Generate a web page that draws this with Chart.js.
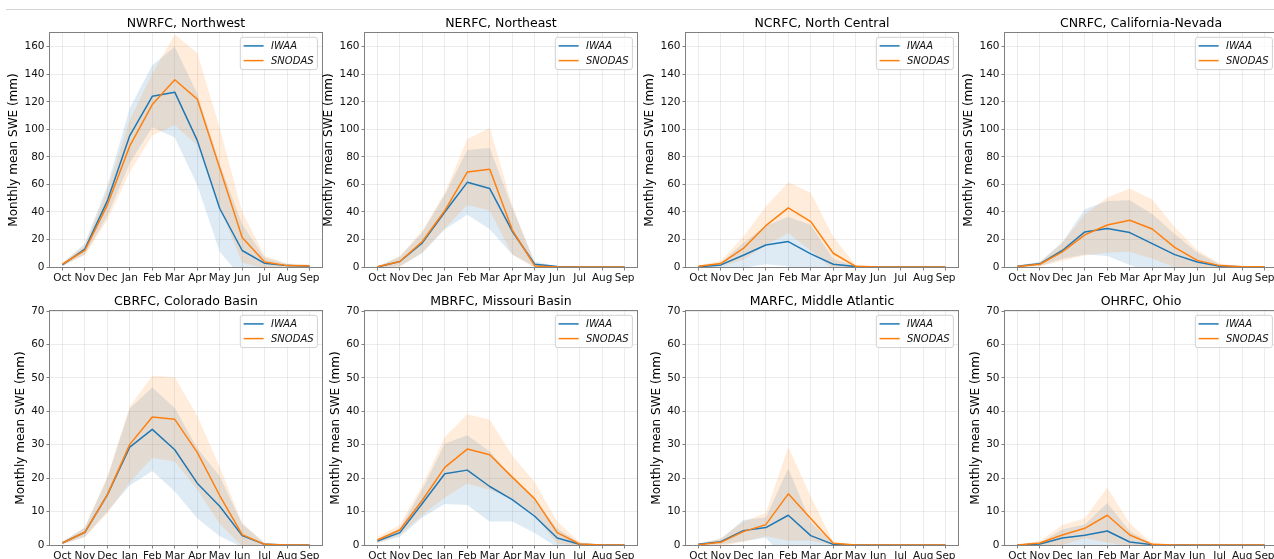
<!DOCTYPE html>
<html><head><meta charset="utf-8">
<script src="https://cdn.jsdelivr.net/npm/chart.js@4.4.1/dist/chart.umd.min.js"></script>
<style>
html,body{margin:0;padding:0;background:#fff;overflow:hidden;width:1274px;height:559px;}
#wrap{position:relative;width:1274px;height:559px;overflow:hidden;background:#fff;}
#wrap canvas{position:absolute;}
#rule{position:absolute;left:6px;top:9px;width:1268px;height:1px;background:#d4d4d4;}
</style></head>
<body><div id="wrap"><div id="rule"></div></div>
<script>
// ---------- data ----------
const months = ['Oct','Nov','Dec','Jan','Feb','Mar','Apr','May','Jun','Jul','Aug','Sep'];
const panelTitles = ['NWRFC, Northwest','NERFC, Northeast','NCRFC, North Central','CNRFC, California-Nevada',
                     'CBRFC, Colorado Basin','MBRFC, Missouri Basin','MARFC, Middle Atlantic','OHRFC, Ohio'];
const seriesNames = ['IWAA','SNODAS'];
const yTicksTop = [0,20,40,60,80,100,120,140,160];
const yMaxTop = 170;
const yTicksBottom = [0,10,20,30,40,50,60,70];
const yMaxBottom = 70;
const yAxisTitle = 'Monthly mean SWE (mm)';

// NWRFC
const nwIwaa     = [1.5, 13, 48, 95.5, 124, 127, 92, 42.5, 12, 2.7, 1, 0.6];
const nwIwaaLo   = [0.5, 9, 37, 75.5, 101.5, 94, 59.5, 11, -8, -1.3, -0.2, -0.2];
const nwIwaaHi   = [2.5, 17, 59, 115.5, 146.5, 160, 126, 75, 31, 6.7, 2.2, 1.4];
const nwSnodas   = [2, 12, 45, 88, 118, 136, 122, 72, 21.5, 3.6, 1, 0.8];
const nwSnodasLo = [1, 8.5, 34, 69, 95.5, 103, 88.5, 43, 3, -0.9, -0.5, -0.2];
const nwSnodasHi = [3, 15.5, 56, 107, 140.5, 169, 155.5, 101, 40, 8.1, 2.5, 1.8];
// NERFC
const neIwaa     = [0, 4, 17.5, 40, 61.5, 57, 26, 2, 0.3, 0, 0, 0];
const neIwaaLo   = [-0.3, 0.5, 10, 27.5, 38, 27.5, 9, 0, 0, 0, 0, 0];
const neIwaaHi   = [0.3, 7.5, 25, 52.5, 85, 86.5, 43, 4, 0.6, 0, 0, 0];
const neSnodas   = [0.2, 4, 18.5, 41, 69, 71, 27, 0.8, 0, 0, 0, 0];
const neSnodasLo = [-0.1, 0, 10.5, 28, 45, 41, 9, -0.4, 0, 0, 0, 0];
const neSnodasHi = [0.5, 8, 26.5, 54, 93, 101, 45, 2, 0, 0, 0, 0];
// NCRFC
const ncIwaa     = [0.1, 1.5, 8.5, 16, 18.5, 9.5, 2, 0.3, 0, 0, 0, 0];
const ncIwaaLo   = [-0.2, 0, -0.5, 2, 0.5, -11.5, -2, -0.2, 0, 0, 0, 0];
const ncIwaaHi   = [0.4, 3, 17.5, 30, 36.5, 30.5, 6, 0.8, 0, 0, 0, 0];
const ncSnodas   = [0.5, 2.5, 13.5, 30, 43, 33, 10, 0.5, 0, 0, 0, 0];
const ncSnodasLo = [-0.1, 0.5, 5, 16, 24.5, 12, -2, -0.3, 0, 0, 0, 0];
const ncSnodasHi = [1.1, 4.5, 22, 44, 61.5, 54, 22, 1.3, 0, 0, 0, 0];
// CNRFC
const cnIwaa     = [0.5, 2.3, 12, 25.5, 28, 25, 17, 9, 3.6, 0.6, 0.1, 0];
const cnIwaaLo   = [0, 0.8, 6, 9, 8, 1.5, -4.5, -6, -3.4, -0.6, -0.1, 0];
const cnIwaaHi   = [1, 3.8, 18, 42, 48, 48.5, 38.5, 24, 10.6, 1.8, 0.3, 0];
const cnSnodas   = [0.3, 2, 11, 23.3, 30.5, 34, 27.6, 14.3, 4.8, 1, 0.2, 0.1];
const cnSnodasLo = [-0.1, 0.5, 4.5, 8.3, 10.5, 11, 6, -0.2, -2.7, -0.5, -0.1, 0];
const cnSnodasHi = [0.7, 3.5, 17.5, 38.3, 50.5, 57, 49, 28.8, 12.3, 2.5, 0.5, 0.2];
// CBRFC
const cbIwaa     = [0.6, 3.8, 15, 29.3, 34.6, 28.5, 18.5, 11.6, 2.8, 0.2, 0, 0];
const cbIwaaLo   = [0.2, 2.4, 10, 17.8, 22.1, 16, 8, 2.6, -0.7, -0.1, 0, 0];
const cbIwaaHi   = [1, 5.2, 20, 40.8, 47.1, 41, 29, 20.6, 6.3, 0.5, 0, 0];
const cbSnodas   = [0.6, 3.8, 15, 30.1, 38.3, 37.6, 27.7, 14.8, 3.1, 0.2, 0, 0];
const cbSnodasLo = [0.2, 2.4, 9.5, 18.8, 26, 25, 16.7, 6.3, -0.4, -0.2, 0, 0];
const cbSnodasHi = [1, 5.2, 20.5, 41.4, 50.6, 50.2, 38.7, 23.3, 6.6, 0.6, 0, 0];
// MBRFC
const mbIwaa     = [1.2, 3.7, 12.4, 21.3, 22.4, 17.5, 13.6, 8.6, 2.1, 0.2, 0, 0];
const mbIwaaLo   = [0.6, 2.4, 8.2, 12.3, 12, 7, 7, 3.6, -0.7, -0.1, 0, 0];
const mbIwaaHi   = [1.8, 5, 16.6, 30.3, 32.8, 28, 20.2, 13.6, 4.9, 0.5, 0, 0];
const mbSnodas   = [1.5, 4.5, 13.4, 23.2, 28.7, 27, 20.3, 13.8, 3.7, 0.3, 0, 0];
const mbSnodasLo = [0.5, 3, 8.9, 14.2, 18.3, 16.5, 13.8, 8.8, 0.4, -0.2, 0, 0];
const mbSnodasHi = [2.5, 6, 17.9, 32.2, 39.1, 37.5, 26.8, 18.8, 7, 0.8, 0, 0];
// MARFC
const maIwaa     = [0.2, 1, 4.3, 5.2, 8.9, 2.8, 0.2, 0, 0, 0, 0, 0];
const maIwaaLo   = [-0.1, 0.2, 1.1, 2.2, -5.1, -1.2, -0.1, 0, 0, 0, 0, 0];
const maIwaaHi   = [0.5, 1.8, 7.5, 8.2, 22.9, 6.8, 0.5, 0, 0, 0, 0, 0];
const maSnodas   = [0.1, 0.8, 4, 6.1, 15.3, 7.9, 0.5, 0, 0, 0, 0, 0];
const maSnodasLo = [-0.1, -0.4, 1, 2.6, 1.3, 1.3, 0, 0, 0, 0, 0, 0];
const maSnodasHi = [0.3, 2, 7, 9.6, 29.3, 14.5, 1, 0, 0, 0, 0, 0];
// OHRFC
const ohIwaa     = [0, 0.3, 2.1, 2.9, 4.2, 0.9, 0.1, 0, 0, 0, 0, 0];
const ohIwaaLo   = [-0.1, -0.1, -0.4, -0.3, -4.2, -2.3, -0.1, 0, 0, 0, 0, 0];
const ohIwaaHi   = [0.1, 0.7, 4.6, 6.1, 12.6, 4.1, 0.3, 0, 0, 0, 0, 0];
const ohSnodas   = [0, 0.6, 3, 5, 8.9, 3, 0.2, 0, 0, 0, 0, 0];
const ohSnodasLo = [-0.1, 0, 0, 2, 0.7, -0.4, -0.1, 0, 0, 0, 0, 0];
const ohSnodasHi = [0.1, 1.2, 6, 8, 17.1, 6.4, 0.5, 0, 0, 0, 0, 0];

// ---------- build panels ----------
const panels = [
  [nwIwaa, nwIwaaLo, nwIwaaHi, nwSnodas, nwSnodasLo, nwSnodasHi],
  [neIwaa, neIwaaLo, neIwaaHi, neSnodas, neSnodasLo, neSnodasHi],
  [ncIwaa, ncIwaaLo, ncIwaaHi, ncSnodas, ncSnodasLo, ncSnodasHi],
  [cnIwaa, cnIwaaLo, cnIwaaHi, cnSnodas, cnSnodasLo, cnSnodasHi],
  [cbIwaa, cbIwaaLo, cbIwaaHi, cbSnodas, cbSnodasLo, cbSnodasHi],
  [mbIwaa, mbIwaaLo, mbIwaaHi, mbSnodas, mbSnodasLo, mbSnodasHi],
  [maIwaa, maIwaaLo, maIwaaHi, maSnodas, maSnodasLo, maSnodasHi],
  [ohIwaa, ohIwaaLo, ohIwaaHi, ohSnodas, ohSnodasLo, ohSnodasHi]
];

const FONT = '"DejaVu Sans", "Liberation Sans", sans-serif';
Chart.defaults.font.family = FONT;
const BLUE = '#1f77b4', ORANGE = '#ff7f0e';
const BLUE_FILL = 'rgba(31,119,180,0.15)', ORANGE_FILL = 'rgba(255,127,14,0.15)';
const SPINE = '#808080';

const plotLefts = [50, 365, 686, 1005];
const rowTops = [0, 278];
const Y_AXIS_W = 50, PLOT_W = 272, PAD_R = 6, PLOT_TOP = 33, PLOT_H = 234, X_AXIS_H = 22;

const framePlugin = {
  id: 'frame',
  afterDatasetsDraw(chart) {
    const {ctx, chartArea: a} = chart;
    ctx.save();
    ctx.strokeStyle = SPINE;
    ctx.lineWidth = 1;
    ctx.strokeRect(Math.round(a.left) - 0.5, Math.round(a.top) - 0.5,
                   Math.round(a.right - a.left) + 1, Math.round(a.bottom - a.top) + 1);
    ctx.restore();
  }
};

const boxLegend = {
  id: 'boxLegend',
  afterDraw(chart) {
    const {ctx, chartArea: a} = chart;
    const items = chart.data.datasets.filter(d => d.isMain);
    ctx.save();
    ctx.font = 'italic 10px ' + FONT;
    const tw = Math.max(...items.map(it => ctx.measureText(it.label).width));
    const w = 3.3 + 20 + 7.4 + tw + 3.8;
    const h = 32.3;
    const x = a.right - 4.6 - w, y = a.top + 4.3;
    ctx.beginPath();
    ctx.roundRect(x, y, w, h, 2.5);
    ctx.fillStyle = 'rgba(255,255,255,0.8)';
    ctx.fill();
    ctx.strokeStyle = 'rgba(204,204,204,0.9)';
    ctx.lineWidth = 1;
    ctx.stroke();
    items.forEach((it, i) => {
      const ly = y + 8.6 + i * 14.7;
      ctx.beginPath();
      ctx.moveTo(x + 3.3, ly);
      ctx.lineTo(x + 23.3, ly);
      ctx.strokeStyle = it.borderColor;
      ctx.lineWidth = 1.5;
      ctx.stroke();
      ctx.fillStyle = '#111';
      ctx.textBaseline = 'middle';
      ctx.textAlign = 'left';
      ctx.fillText(it.label, x + 30.7, ly + 0.5);
    });
    ctx.restore();
  }
};

const wrap = document.getElementById('wrap');
const toPts = arr => arr.map((v, i) => ({x: i, y: v}));

panels.forEach((p, idx) => {
  const row = idx < 4 ? 0 : 1, col = idx % 4;
  const yTicks = row === 0 ? yTicksTop : yTicksBottom;
  const yMax = row === 0 ? yMaxTop : yMaxBottom;
  const W = Y_AXIS_W + PLOT_W + PAD_R, H = PLOT_TOP + PLOT_H + X_AXIS_H;
  const canvas = document.createElement('canvas');
  canvas.width = W; canvas.height = H;
  canvas.style.width = W + 'px'; canvas.style.height = H + 'px';
  canvas.style.left = (plotLefts[col] - Y_AXIS_W) + 'px';
  canvas.style.top = rowTops[row] + 'px';
  wrap.appendChild(canvas);

  const band = (arr, color, fill, order) => ({
    label: '', data: toPts(arr), borderWidth: 0, borderColor: 'transparent',
    pointRadius: 0, backgroundColor: color, fill: fill, order: order, tension: 0
  });
  const line = (arr, label, color, order) => ({
    label: label, isMain: true, data: toPts(arr), borderColor: color, backgroundColor: color,
    borderWidth: 1.5, pointRadius: 0, fill: false, order: order, tension: 0,
    borderCapStyle: 'butt', borderJoinStyle: 'round'
  });

  new Chart(canvas, {
    type: 'line',
    data: {
      datasets: [
        band(p[2], BLUE_FILL, '+1', 3),
        band(p[1], BLUE_FILL, false, 3),
        band(p[5], ORANGE_FILL, '+1', 2),
        band(p[4], ORANGE_FILL, false, 2),
        line(p[0], seriesNames[0], BLUE, 1),
        line(p[3], seriesNames[1], ORANGE, 0)
      ]
    },
    options: {
      responsive: false,
      animation: false,
      devicePixelRatio: 1,
      events: [],
      layout: {padding: {left: 0, right: PAD_R, top: 0, bottom: 0}},
      plugins: {
        legend: {display: false},
        tooltip: {enabled: false},
        title: {
          display: true, text: panelTitles[idx], color: '#000', fullSize: false,
          font: {size: 12.5, weight: 'normal', lineHeight: 1.2},
          padding: {top: 16.5, bottom: 1.5}
        }
      },
      scales: {
        x: {
          type: 'linear', min: -0.55, max: 11.55,
          afterBuildTicks: s => { s.ticks = months.map((m, i) => ({value: i})); },
          afterFit: s => { s.height = X_AXIS_H; },
          border: {display: false},
          grid: {color: 'rgba(176,176,176,0.3)', lineWidth: 0.8, drawTicks: true,
                 tickLength: 3.5, tickColor: SPINE, tickWidth: 1},
          ticks: {autoSkip: false, maxRotation: 0, minRotation: 0, padding: 1.5,
                  color: '#111', font: {size: 10.5},
                  callback: v => months[v]}
        },
        y: {
          type: 'linear', min: 0, max: yMax,
          afterBuildTicks: s => { s.ticks = yTicks.map(v => ({value: v})); },
          afterFit: s => { s.width = Y_AXIS_W; },
          border: {display: false},
          grid: {color: 'rgba(176,176,176,0.3)', lineWidth: 0.8, drawTicks: true,
                 tickLength: 3.5, tickColor: SPINE, tickWidth: 1},
          ticks: {padding: 2, color: '#111', font: {size: 10.5}, callback: v => String(v)},
          title: {display: true, text: yAxisTitle, color: '#000',
                  font: {size: 12, weight: 'normal', lineHeight: 1.2},
                  padding: {top: row === 0 ? 6.3 : 13.8, bottom: 0}}
        }
      }
    },
    plugins: [framePlugin, boxLegend]
  });
});
</script>
</body></html>
